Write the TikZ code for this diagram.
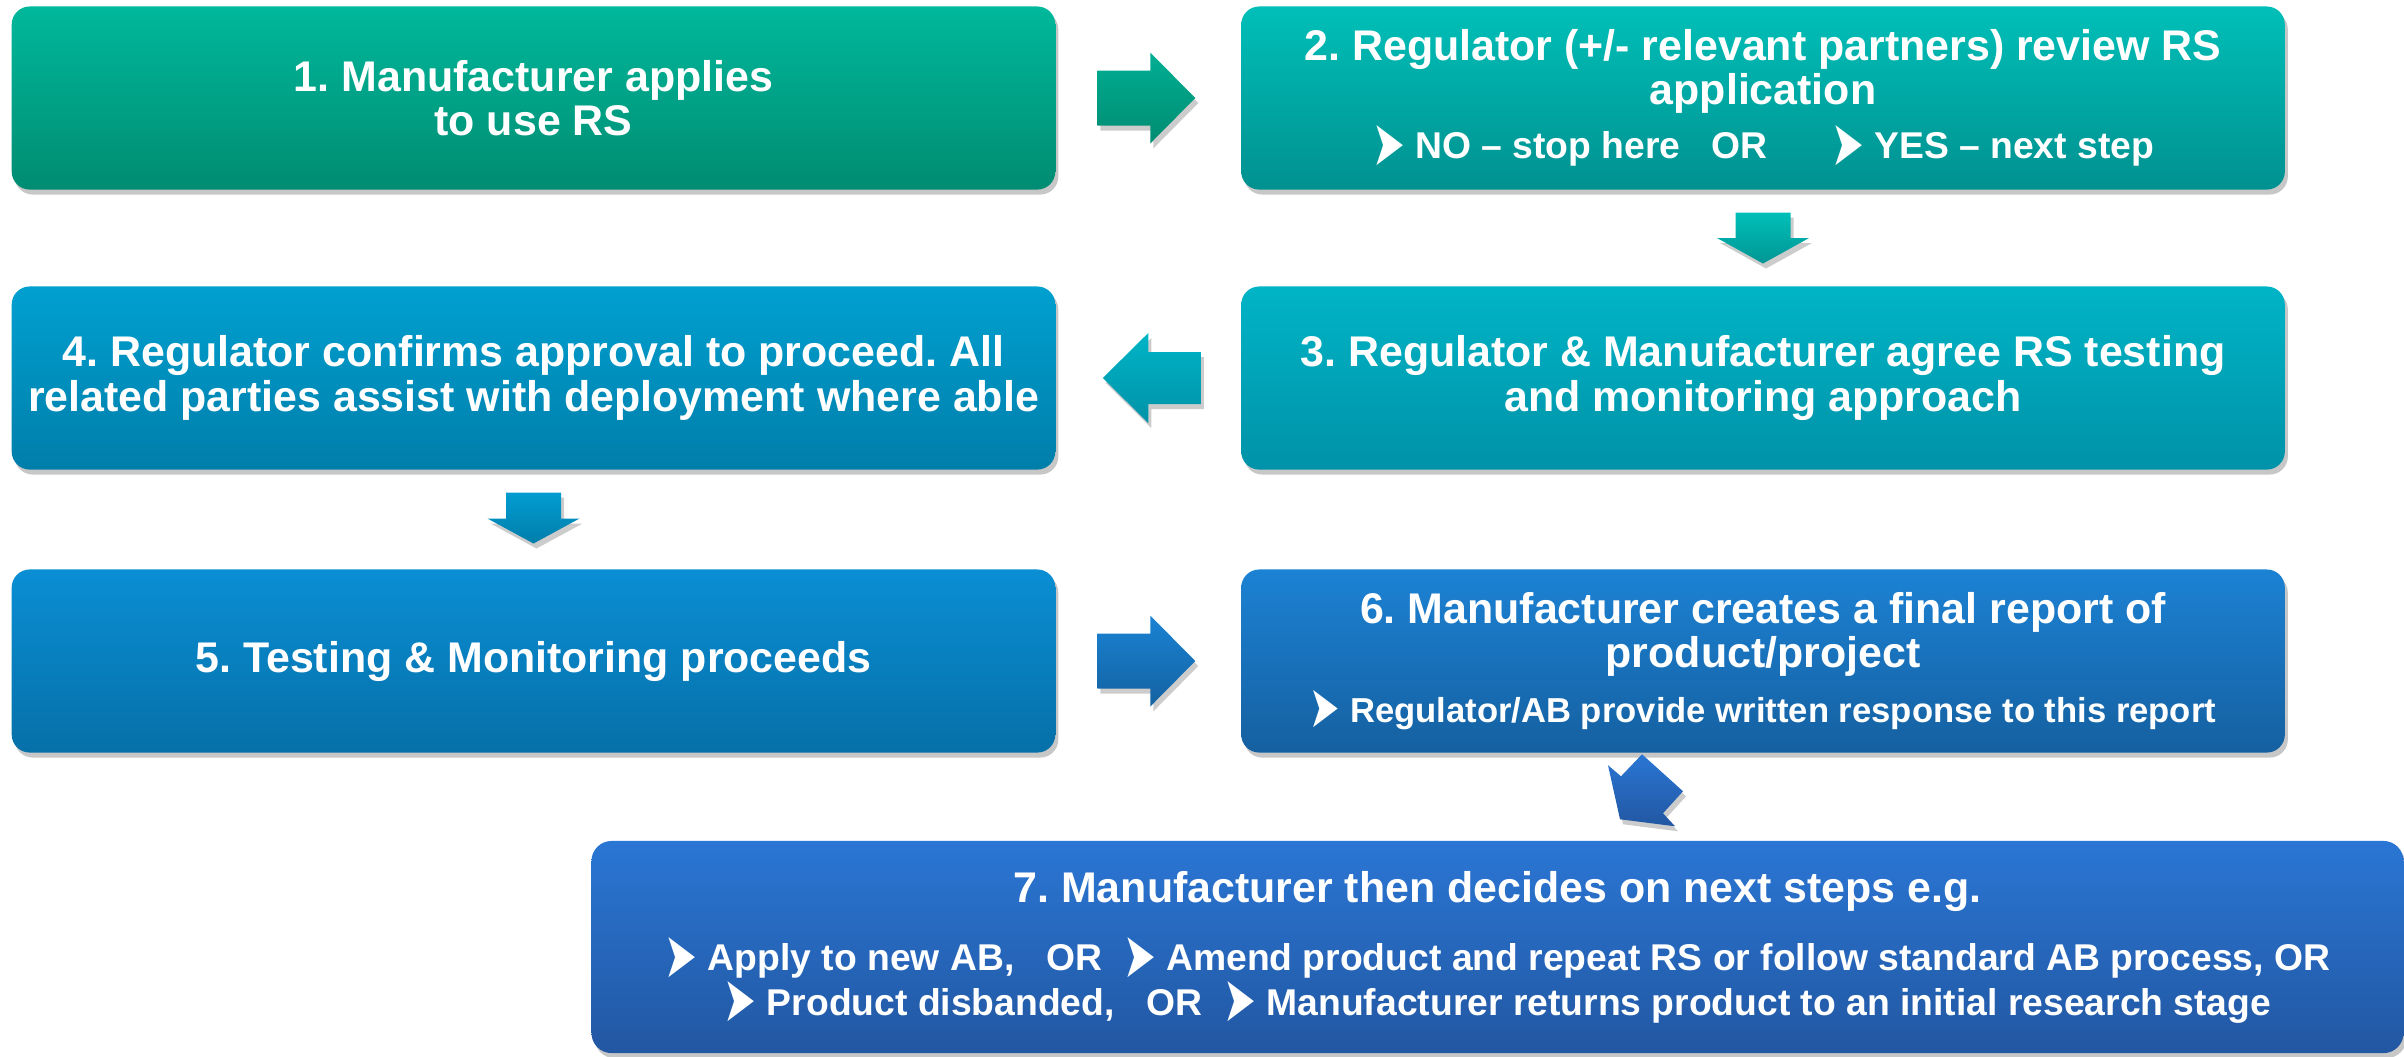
\documentclass[tikz,border=0pt]{standalone}
\usepackage{fontspec}
\usepackage{graphicx}
\setmainfont{Liberation Sans}
\newfontfamily\symf{DejaVu Sans}
\usetikzlibrary{calc,shadows}
\frenchspacing
\definecolor{c1t}{HTML}{00B89B}\definecolor{c1b}{HTML}{008C72}
\definecolor{c2t}{HTML}{00BFB8}\definecolor{c2b}{HTML}{009190}
\definecolor{c3t}{HTML}{00B4C6}\definecolor{c3b}{HTML}{0092A8}
\definecolor{c4t}{HTML}{00A0D0}\definecolor{c4b}{HTML}{007EAA}
\definecolor{c5t}{HTML}{0A8ED4}\definecolor{c5b}{HTML}{0670A8}
\definecolor{c6t}{HTML}{1C82D4}\definecolor{c6b}{HTML}{1560A0}
\definecolor{c7t}{HTML}{2A76D4}\definecolor{c7b}{HTML}{2257A2}
\newcommand{\bul}{\raisebox{0.11em}{$\vcenter{\hbox{\symf\scalebox{1.05}[1.7]{➤}}}$}}
\tikzset{
  box/.style={rounded corners=0.18cm, minimum width=10.43cm, minimum height=1.83cm,
    inner sep=0pt, text=white, align=center,
    font=\fontsize{12.2}{12.6}\selectfont\bfseries,
    drop shadow={shadow xshift=0.03cm, shadow yshift=-0.05cm, opacity=0.22, fill=black}},
  blk/.style={drop shadow={shadow xshift=0.03cm, shadow yshift=-0.05cm, opacity=0.2, fill=black}},
}
\begin{document}
\begin{tikzpicture}[x=0.01cm,y=-0.01cm]
\useasboundingbox (0,0) rectangle (2404,1056);

\node[box, top color=c1t, bottom color=c1b] (b1) at (533.5,98)
  {1. Manufacturer applies\\to use RS};
\node[box, top color=c2t, bottom color=c2b] (b2) at (1763,98)
  {2. Regulator (+/- relevant partners) review RS\\application\\[2.8pt]%
   {\fontsize{10.6}{12.6}\selectfont\bul\ NO – stop here\hspace{9pt}OR\hspace{18pt}\bul\ YES – next step}};
\node[box, top color=c3t, bottom color=c3b] (b3) at (1763,378)
  {3. Regulator \& Manufacturer agree RS testing\\and monitoring approach};
\node[box, top color=c4t, bottom color=c4b] (b4) at (533.5,378)
  {4. Regulator confirms approval to proceed. All\\related parties assist with deployment where able};
\node[box, top color=c5t, bottom color=c5b] (b5) at (533.5,661)
  {5. Testing \& Monitoring proceeds};
\node[box, top color=c6t, bottom color=c6b] (b6) at (1763,661)
  {6. Manufacturer creates a final report of\\product/project\\[2.8pt]%
   {\fontsize{9.85}{12.6}\selectfont\bul\ Regulator/AB provide written response to this report}};
\node[box, rounded corners=0.2cm, minimum width=18.11cm, minimum height=2.12cm,
      top color=c7t, bottom color=c7b] (b7) at (1497.5,947)
  {7. Manufacturer then decides on next steps e.g.\\[7pt]%
   {\fontsize{10.6}{12.6}\selectfont\bul\ Apply to new AB,\hspace{9pt}OR\hspace{6pt}\bul\ Amend product and repeat RS or follow standard AB process, OR}\\%
   {\fontsize{10.6}{12.6}\selectfont\bul\ Product disbanded,\hspace{9pt}OR\hspace{6pt}\bul\ Manufacturer returns product to an initial research stage}};

% connector anchors
\coordinate (m12) at ($(b1.east)!0.5!(b2.west)$);
\coordinate (m23) at ($(b2.south)!0.5!(b3.north)$);
\coordinate (m34) at ($(b4.east)!0.5!(b3.west)$);
\coordinate (m45) at ($(b4.south)!0.5!(b5.north)$);
\coordinate (m56) at ($(b5.east)!0.5!(b6.west)$);
\coordinate (m67) at ($(b6.south)+(-122,42)$);

% 1 -> 2
\begin{scope}[shift={(m12)}]
\shade[blk, top color=c1t!95!black, bottom color=c1b] (-51,-27.5) -- (2,-27.5) -- (2,-45.5) -- (47,0)
  -- (2,45.5) -- (2,27.5) -- (-51,27.5) -- cycle;
\end{scope}
% 2 -> 3
\begin{scope}[shift={(m23)}]
\shade[blk, top color=c2t, bottom color=c2b!90!c2t] (-27.5,-25.5) -- (27.5,-25.5) -- (27.5,0) -- (46,0)
  -- (0,25.5) -- (-46,0) -- (-27.5,0) -- cycle;
\end{scope}
% 3 -> 4
\begin{scope}[shift={(m34)}]
\shade[blk, top color=c3t, bottom color=c3b] (52.5,-26) -- (0,-26) -- (0,-45) -- (-45.5,0)
  -- (0,45) -- (0,26) -- (52.5,26) -- cycle;
\end{scope}
% 4 -> 5
\begin{scope}[shift={(m45)}]
\shade[blk, top color=c4t!80!c5t, bottom color=c4b] (-27.5,-27) -- (27.5,-27) -- (27.5,-1) -- (46,-1)
  -- (0,24) -- (-46,-1) -- (-27.5,-1) -- cycle;
\end{scope}
% 5 -> 6
\begin{scope}[shift={(m56)}]
\shade[blk, top color=c6t!90!c5t, bottom color=c6b!90!c5b] (-51,-27.5) -- (2,-27.5) -- (2,-45.5) -- (47,0)
  -- (2,45.5) -- (2,27.5) -- (-51,27.5) -- cycle;
\end{scope}
% 6 -> 7
\begin{scope}[shift={(m67)}]
\shade[blk, top color=c7t, bottom color=c7b] (1,-41) -- (42,-4) -- (22,18) -- (34,31) -- (-21,24)
  -- (-33,-30) -- (-20,-19) -- cycle;
\end{scope}
\end{tikzpicture}
\end{document}
